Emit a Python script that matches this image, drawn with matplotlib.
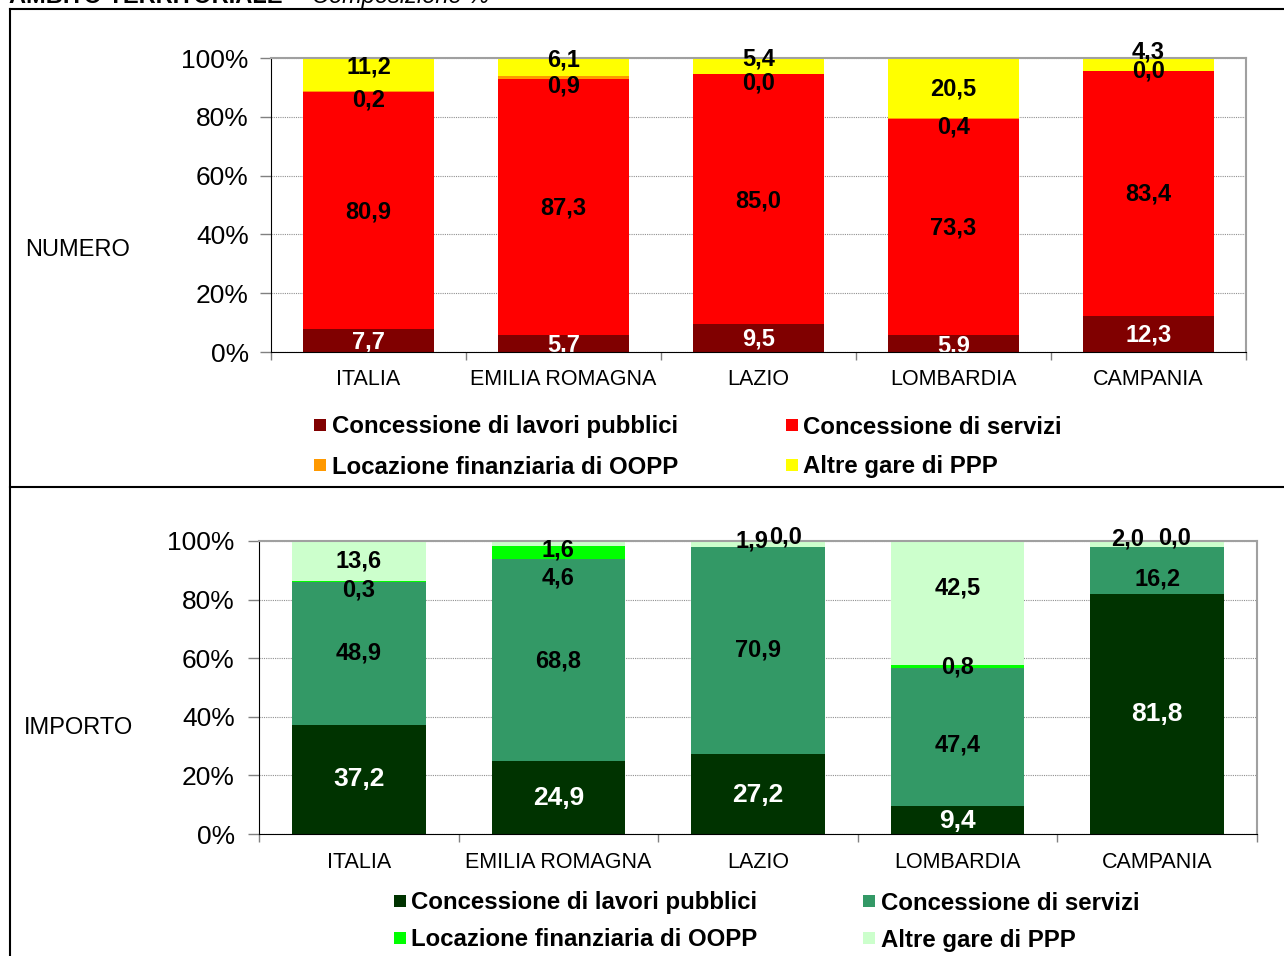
import numpy as np
import matplotlib.pyplot as plt
from matplotlib.lines import Line2D
from matplotlib.patches import Rectangle

plt.rcParams['font.family'] = ['Liberation Sans', 'DejaVu Sans']

regioni = ['ITALIA', 'EMILIA ROMAGNA', 'LAZIO', 'LOMBARDIA', 'CAMPANIA']
serie = ['Concessione di lavori pubblici', 'Concessione di servizi',
         'Locazione finanziaria di OOPP', 'Altre gare di PPP']

# composizione % per numero di gare
num_lavori = [7.7, 5.7, 9.5, 5.9, 12.3]
num_servizi = [80.9, 87.3, 85.0, 73.3, 83.4]
num_locazione = [0.2, 0.9, 0.0, 0.4, 0.0]
num_altre = [11.2, 6.1, 5.4, 20.5, 4.3]

# composizione % per importo
imp_lavori = [37.2, 24.9, 27.2, 9.4, 81.8]
imp_servizi = [48.9, 68.8, 70.9, 47.4, 16.2]
imp_locazione = [0.3, 4.6, 0.0, 0.8, 0.0]
imp_altre = [13.6, 1.6, 1.9, 42.5, 2.0]

col_num = ['#800000', '#FF0000', '#FF9900', '#FFFF00']
col_imp = ['#003300', '#339966', '#00FF00', '#CCFFCC']

# spostamenti delle etichette rispetto al centro del segmento (x in categorie, y in %)
dy_num = [[-0.4, -0.4, -0.4, -0.9, -0.4],
          [-0.4, -0.4, -0.5, -0.5, -0.4],
          [-3.0, -3.0, -3.1, -2.9, -0.1],
          [2.5, 2.3, 2.4, -0.3, 4.2]]
dx_num = [[0] * 5 for _ in range(4)]
dy_imp = [[0.1, -0.2, -0.3, -0.3, -0.1],
          [0.0, -0.1, 0.0, -2.8, -2.8],
          [-3.0, -8.6, 3.2, -0.1, 3.1],
          [0.0, -2.3, 1.0, 5.2, 1.7]]
dx_imp = [[0] * 5 for _ in range(4)]
dx_imp[2][2] = 0.14
dx_imp[3][2] = -0.03
dx_imp[2][4] = 0.085
dx_imp[3][4] = -0.15

W, H = 1284, 956
fig = plt.figure(figsize=(W / 100, H / 100), dpi=100)


def fx(px):
    return px / W


def fy(py):
    return 1 - py / H


def stacked(rect, serie_val, colori, dx, dy, width, size_base, ypad, xpad):
    ax = fig.add_axes(rect)
    x = np.arange(len(regioni))
    base = np.zeros(len(regioni))
    for k, vals in enumerate(serie_val):
        vals = np.array(vals)
        ax.bar(x, vals, width, bottom=base, color=colori[k], zorder=2,
               edgecolor='none')
        for i, v in enumerate(vals):
            txt = f'{v:.1f}'.replace('.', ',')
            ax.text(x[i] + dx[k][i], base[i] + v / 2 + dy[k][i], txt,
                    ha='center', va='center',
                    fontsize=size_base if k == 0 else 17, fontweight='bold',
                    color='white' if k == 0 else 'black', zorder=4)
        base += vals
    ax.set_xlim(-0.5, len(regioni) - 0.5)
    ax.set_ylim(0, 100)
    ax.set_yticks(range(0, 101, 20))
    ax.set_yticklabels([f'{v}%' for v in range(0, 101, 20)], fontsize=19)
    ax.tick_params(axis='y', length=8, width=1, color='#808080', pad=ypad)
    ax.set_xticks(np.arange(-0.5, len(regioni), 1))
    ax.set_xticklabels([])
    ax.tick_params(axis='x', length=6, width=1, color='#808080')
    ax.set_xticks(x, minor=True)
    ax.set_xticklabels(regioni, minor=True, fontsize=15.5)
    ax.tick_params(axis='x', which='minor', length=0, pad=xpad)
    ax.grid(axis='y', color='#909090', linestyle=(0, (1, 1)), linewidth=0.8,
            zorder=0)
    ax.set_axisbelow(True)
    for s in ['top', 'right']:
        ax.spines[s].set_color('#a0a0a0')
        ax.spines[s].set_linewidth(1.5)
    ax.spines['left'].set_color('black')
    ax.spines['bottom'].set_color('black')
    ax.spines['bottom'].set_zorder(5)
    return ax


stacked([fx(271), fy(352), fx(975), (352 - 58) / H],
        [num_lavori, num_servizi, num_locazione, num_altre],
        col_num, dx_num, dy_num, 0.667, 17, 8, 12)
stacked([fx(259), fy(834), fx(998), (834 - 541) / H],
        [imp_lavori, imp_servizi, imp_locazione, imp_altre],
        col_imp, dx_imp, dy_imp, 0.67, 19, 9.5, 12.6)

fig.text(fx(25), fy(250), 'NUMERO', fontsize=17, va='center', ha='left')
fig.text(fx(24), fy(728), 'IMPORTO', fontsize=17, va='center', ha='left')


def legenda(colori, cols, rows):
    for k, nome in enumerate(serie):
        mx, tx = cols[k % 2]
        yc = rows[k // 2]
        fig.patches.append(Rectangle((fx(mx), fy(yc + 6)), 12 / W, 12 / H,
                                     transform=fig.transFigure,
                                     facecolor=colori[k], edgecolor='none'))
        fig.text(fx(tx), fy(yc + 2), nome, fontsize=17.3, fontweight='bold',
                 va='center', ha='left')


legenda(col_num, [(314, 332), (786, 803)], [425, 465])
legenda(col_imp, [(394, 411), (863, 881)], [901, 938])

# cornice e separatore tra i due riquadri
lw = 1.5
fig.add_artist(Line2D([fx(10), fx(10)], [0, fy(9)], color='black', lw=lw))
fig.add_artist(Line2D([fx(10), 1], [fy(9), fy(9)], color='black', lw=lw))
fig.add_artist(Line2D([fx(10), 1], [fy(487), fy(487)], color='black', lw=lw))

fig.text(fx(9), fy(3), 'AMBITO TERRITORIALE -', fontsize=17,
         fontweight='bold', va='baseline', ha='left')
fig.text(fx(312), fy(3), 'Composizione %', fontsize=17, fontstyle='italic',
         va='baseline', ha='left')

fig.savefig('out.png', dpi=100)
